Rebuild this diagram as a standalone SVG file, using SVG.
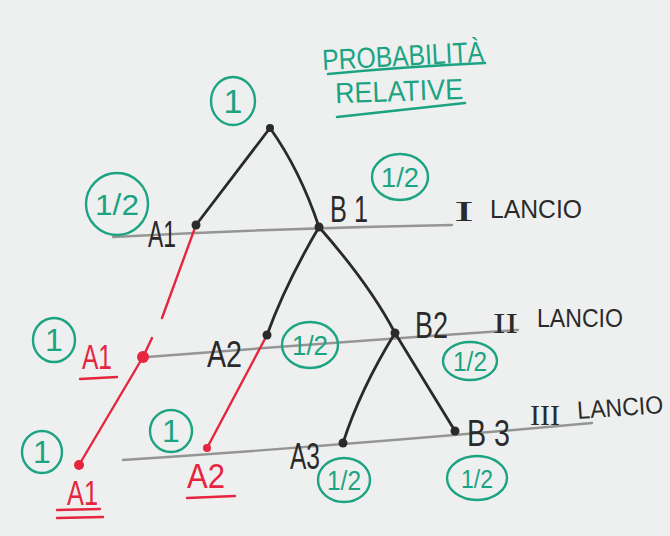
<svg xmlns="http://www.w3.org/2000/svg" width="670" height="536" viewBox="0 0 670 536">
<style>
.bg{fill:#eef0f0}
.lvl{stroke:#959595;stroke-width:2.4;fill:none;stroke-linecap:round}
.blk{stroke:#2a2a2a;stroke-width:2.8;fill:none;stroke-linecap:round}
.red{stroke:#e6253f;stroke-width:2.4;fill:none;stroke-linecap:round}
.gc{stroke:#1ca382;stroke-width:2.4;fill:none}
.gt{fill:#1ca382;font-family:"Liberation Sans",Arial,sans-serif;text-anchor:middle}
.bt{fill:#2a2a2a;font-family:"Liberation Sans",Arial,sans-serif;font-size:36px}
.lt{fill:#2a2a2a;font-family:"Liberation Sans",Arial,sans-serif;font-size:25px}
.rn{fill:#2a2a2a;font-family:"Liberation Serif","Times New Roman",serif;font-size:29px}
.rt{fill:#e6253f;font-family:"Liberation Sans",Arial,sans-serif;font-size:35px}
.title{fill:#1ca382;font-family:"Liberation Sans",Arial,sans-serif;font-size:29px}
.gl{stroke:#1ca382;stroke-width:2.6;fill:none;stroke-linecap:round}
</style>
<rect class="bg" width="670" height="536"/>

<g id="title">
<text class="title" x="322" y="66" textLength="162" lengthAdjust="spacingAndGlyphs" transform="rotate(-3 400 55)">PROBABILITÀ</text>
<path class="gl" d="M328 74 Q400 67 485 63"/>
<text class="title" x="335" y="101" textLength="128" lengthAdjust="spacingAndGlyphs" transform="rotate(-2 400 90)">RELATIVE</text>
<path class="gl" d="M337 117 Q400 110 465 103"/>
</g>

<g id="levels">
<path class="lvl" d="M113 237 Q280 228 452 225"/>
<path class="lvl" d="M147 357 Q340 342 518 330"/>
<path class="lvl" d="M123 460 Q350 445 592 423"/>
</g>

<g id="connectors">
<path class="blk" d="M270 128 L196 225"/>
<path class="blk" d="M270 128 Q300 170 319 227"/>
<path class="blk" d="M319 227 Q285 285 267 335"/>
<path class="blk" d="M319 227 Q370 285 395 333"/>
<path class="blk" d="M395 333 Q360 390 343 443"/>
<path class="blk" d="M395 333 Q430 390 455 431"/>
<path class="red" d="M196 225 L162 318"/>
<path class="red" d="M152 338 L143 357"/>
<path class="red" d="M143 357 L79 465"/>
<path class="red" d="M267 335 L207 448"/>
</g>

<g id="root">
<circle cx="270" cy="128" r="4" fill="#2a2a2a"/>
<ellipse class="gc" cx="233" cy="101" rx="22" ry="24"/>
<text class="gt" x="233" y="113" font-size="34">1</text>
</g>

<g id="A1">
<circle cx="196" cy="225" r="4.5" fill="#2a2a2a"/>
<text class="bt" x="148" y="247" textLength="28" lengthAdjust="spacingAndGlyphs">A1</text>
<ellipse class="gc" cx="117" cy="204" rx="31" ry="31"/>
<text class="gt" x="117" y="215" font-size="30" textLength="44" lengthAdjust="spacingAndGlyphs">1/2</text>
</g>

<g id="B1">
<circle cx="319" cy="227" r="4.5" fill="#2a2a2a"/>
<text class="bt" x="330" y="222" textLength="38" lengthAdjust="spacingAndGlyphs">B 1</text>
<ellipse class="gc" cx="400" cy="177" rx="28" ry="23"/>
<text class="gt" x="400" y="187" font-size="28" textLength="38" lengthAdjust="spacingAndGlyphs">1/2</text>
<text class="rn" x="454" y="221" textLength="20" lengthAdjust="spacingAndGlyphs">I</text>
<text class="lt" x="490" y="218" textLength="92" lengthAdjust="spacingAndGlyphs">LANCIO</text>
</g>

<g id="A2">
<circle cx="267" cy="335" r="4.5" fill="#2a2a2a"/>
<text class="bt" x="207" y="367" textLength="35" lengthAdjust="spacingAndGlyphs">A2</text>
<ellipse class="gc" cx="310" cy="345" rx="28" ry="23"/>
<text class="gt" x="310" y="355" font-size="28" textLength="36" lengthAdjust="spacingAndGlyphs">1/2</text>
</g>

<g id="B2">
<circle cx="395" cy="333" r="4.5" fill="#2a2a2a"/>
<text class="bt" x="415" y="338" textLength="33" lengthAdjust="spacingAndGlyphs">B2</text>
<ellipse class="gc" cx="470" cy="361" rx="27" ry="19"/>
<text class="gt" x="470" y="371" font-size="27" textLength="34" lengthAdjust="spacingAndGlyphs">1/2</text>
<text class="rn" x="493" y="333" textLength="25" lengthAdjust="spacingAndGlyphs">II</text>
<text class="lt" x="537" y="327" textLength="86" lengthAdjust="spacingAndGlyphs">LANCIO</text>
</g>

<g id="A3">
<circle cx="343" cy="443" r="4.5" fill="#2a2a2a"/>
<text class="bt" x="290" y="469" textLength="30" lengthAdjust="spacingAndGlyphs">A3</text>
<ellipse class="gc" cx="344" cy="480" rx="26" ry="22"/>
<text class="gt" x="344" y="490" font-size="27" textLength="34" lengthAdjust="spacingAndGlyphs">1/2</text>
</g>

<g id="B3">
<circle cx="455" cy="431" r="4.5" fill="#2a2a2a"/>
<text class="bt" x="467" y="446" textLength="43" lengthAdjust="spacingAndGlyphs">B 3</text>
<ellipse class="gc" cx="477" cy="478" rx="30" ry="22"/>
<text class="gt" x="477" y="488" font-size="26" textLength="32" lengthAdjust="spacingAndGlyphs">1/2</text>
<text class="rn" x="530" y="425" textLength="30" lengthAdjust="spacingAndGlyphs">III</text>
<text class="lt" x="577" y="416" textLength="86" lengthAdjust="spacingAndGlyphs" transform="rotate(-4 620 405)">LANCIO</text>
</g>

<g id="redA1mid">
<circle cx="143" cy="357" r="6" fill="#e6253f"/>
<text class="rt" x="82" y="369" textLength="30" lengthAdjust="spacingAndGlyphs">A1</text>
<path class="red" d="M80 379 L117 377"/>
<ellipse class="gc" cx="54" cy="340" rx="21" ry="22"/>
<text class="gt" x="54" y="351" font-size="32">1</text>
</g>

<g id="redA1bot">
<circle cx="79" cy="465" r="5" fill="#e6253f"/>
<text class="rt" x="67" y="505" textLength="31" lengthAdjust="spacingAndGlyphs">A1</text>
<path class="red" d="M57 510 L100 509"/>
<path class="red" d="M57 518 L103 517"/>
<ellipse class="gc" cx="42" cy="452" rx="20" ry="21"/>
<text class="gt" x="42" y="463" font-size="32">1</text>
</g>

<g id="redA2">
<circle cx="207" cy="448" r="4" fill="#e6253f"/>
<text class="rt" x="187" y="488" textLength="38" lengthAdjust="spacingAndGlyphs">A2</text>
<path class="red" d="M187 498 L235 496"/>
<ellipse class="gc" cx="171" cy="431" rx="21" ry="21"/>
<text class="gt" x="171" y="442" font-size="32">1</text>
</g>
</svg>
